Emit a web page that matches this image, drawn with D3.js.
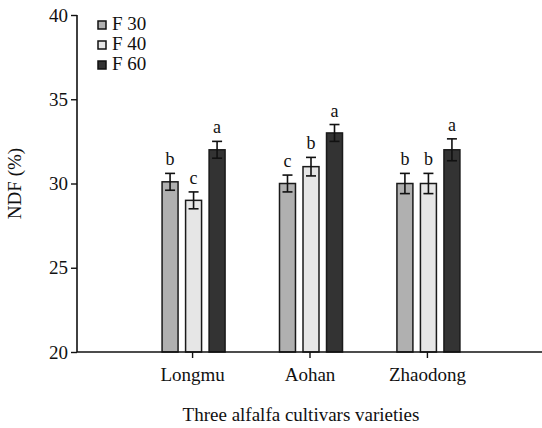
<!DOCTYPE html>
<html>
<head>
<meta charset="utf-8">
<script src="https://d3js.org/d3.v7.min.js"></script>
<style>
  body { margin: 0; background: #fff; }
  text { font-family: "Liberation Serif", "Times New Roman", serif; fill: #111; }
</style>
</head>
<body>
<script>
// data
var cultivars = ['Longmu', 'Aohan', 'Zhaodong'];
var treatments = ['F 30', 'F 40', 'F 60'];
var means = [
  [30.1, 29.0, 32.0],
  [30.0, 31.0, 33.0],
  [30.0, 30.0, 32.0]
];
var errs = [
  [0.5, 0.5, 0.5],
  [0.5, 0.55, 0.5],
  [0.6, 0.6, 0.65]
];
var letters = [
  ['b', 'c', 'a'],
  ['c', 'b', 'a'],
  ['b', 'b', 'a']
];
var yTicks = [20, 25, 30, 35, 40];
var fills = ['#b0b0b0', '#e6e6e6', '#333333'];

var W = 542, H = 428;
var mLeft = 77, mTop = 15, mBottom = 352, mRight = 542;

var svg = d3.select('body').append('svg')
    .attr('width', W)
    .attr('height', H);

var y = d3.scaleLinear().domain([20, 40]).range([mBottom, mTop]);
var x = d3.scalePoint().domain(cultivars).range([mLeft, mRight]).padding(0.98);
var x1 = d3.scaleBand().domain(treatments).range([-30, 33]).paddingInner(0.32).paddingOuter(0);

var rows = [];
cultivars.forEach((c, i) => {
    treatments.forEach((t, j) => {
        rows.push({cultivar: c, treatment: t, j: j, mean: means[i][j], err: errs[i][j], letter: letters[i][j]});
    });
});

// bars
var g = svg.append('g');
g.selectAll('rect.bar')
    .data(rows)
    .enter().append('rect')
    .attr('class', 'bar')
    .attr('x', d => x(d.cultivar) + x1(d.treatment))
    .attr('y', d => y(d.mean))
    .attr('width', x1.bandwidth())
    .attr('height', d => mBottom - y(d.mean))
    .attr('fill', d => fills[d.j])
    .attr('stroke', '#1a1a1a')
    .attr('stroke-width', 1.5);

// error bars
var eb = g.selectAll('g.err')
    .data(rows)
    .enter().append('g')
    .attr('class', 'err')
    .attr('stroke', '#111')
    .attr('stroke-width', 1.6);
var cx = d => x(d.cultivar) + x1(d.treatment) + x1.bandwidth() / 2;
eb.append('line')
    .attr('x1', cx).attr('x2', cx)
    .attr('y1', d => y(d.mean + d.err)).attr('y2', d => y(d.mean - d.err));
eb.append('line')
    .attr('x1', d => cx(d) - 5).attr('x2', d => cx(d) + 5)
    .attr('y1', d => y(d.mean + d.err)).attr('y2', d => y(d.mean + d.err));
eb.append('line')
    .attr('x1', d => cx(d) - 5).attr('x2', d => cx(d) + 5)
    .attr('y1', d => y(d.mean - d.err)).attr('y2', d => y(d.mean - d.err));

// letters
g.selectAll('text.sig')
    .data(rows)
    .enter().append('text')
    .attr('class', 'sig')
    .attr('x', cx)
    .attr('y', d => y(d.mean + d.err) - 8)
    .attr('text-anchor', 'middle')
    .attr('font-size', 18)
    .text(d => d.letter);

// y axis
var yAxis = svg.append('g')
    .attr('transform', 'translate(' + mLeft + ',0)')
    .call(d3.axisLeft(y).tickValues(yTicks).tickSize(6).tickPadding(3));
yAxis.select('.domain').attr('stroke', '#111').attr('stroke-width', 1.6)
    .attr('d', 'M0,' + mTop + 'V' + mBottom);
yAxis.selectAll('.tick line').attr('stroke', '#111').attr('stroke-width', 1.4);
yAxis.selectAll('.tick text').attr('font-size', 19).attr('font-family', '"Liberation Serif", serif').attr('fill', '#111');

// x axis
var xAxis = svg.append('g')
    .attr('transform', 'translate(0,' + mBottom + ')')
    .call(d3.axisBottom(x).tickSize(6).tickPadding(10));
xAxis.select('.domain').attr('stroke', '#111').attr('stroke-width', 1.6)
    .attr('d', 'M' + mLeft + ',0H' + mRight);
xAxis.selectAll('.tick line').attr('stroke', '#111').attr('stroke-width', 1.4);
xAxis.selectAll('.tick text').attr('font-size', 19).attr('font-family', '"Liberation Serif", serif').attr('fill', '#111');

// axis titles
svg.append('text')
    .attr('transform', 'translate(21,' + ((mTop + mBottom) / 2) + ') rotate(-90)')
    .attr('text-anchor', 'middle')
    .attr('font-size', 19)
    .text('NDF (%)');
svg.append('text')
    .attr('x', 301)
    .attr('y', 421)
    .attr('text-anchor', 'middle')
    .attr('font-size', 19)
    .text('Three alfalfa cultivars varieties');

// legend
var leg = svg.selectAll('g.leg')
    .data(treatments)
    .enter().append('g')
    .attr('class', 'leg')
    .attr('transform', (d, i) => 'translate(98,' + (21 + i * 20) + ')');
leg.append('rect')
    .attr('width', 8).attr('height', 8)
    .attr('fill', (d, i) => fills[i])
    .attr('stroke', '#111').attr('stroke-width', 1.5);
leg.append('text')
    .attr('x', 14).attr('y', 9)
    .attr('font-size', 19)
    .text(d => d);
</script>
</body>
</html>
